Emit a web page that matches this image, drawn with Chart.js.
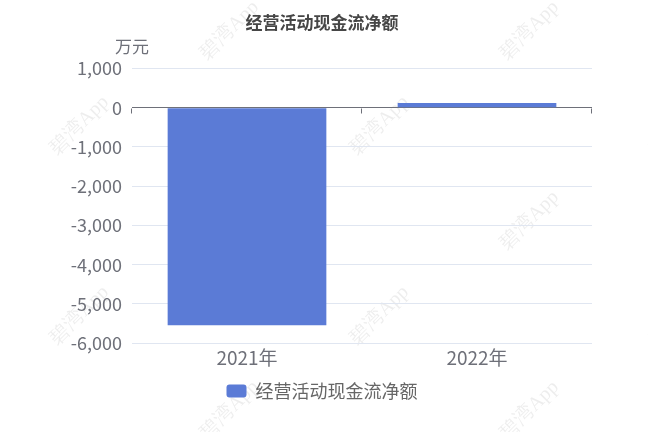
<!DOCTYPE html>
<html>
<head>
<meta charset="utf-8">
<script src="https://cdn.jsdelivr.net/npm/chart.js@4.4.1/dist/chart.umd.min.js"></script>
<style>
  html, body { margin: 0; padding: 0; background: #fff; }
  #wrap { width: 648px; height: 432px; position: relative; }
</style>
</head>
<body>
<div id="wrap"><canvas id="c"></canvas></div>
<script>
// du lieu doc tu hinh
const categories = ['2021年', '2022年'];
const cashFlow = [-5540, 120];
const seriesName = '经营活动现金流净额';
const yTicks = { min: -6000, max: 1000, step: 1000 };
const unitLabel = '万元';
const watermark = '碧湾App';

const FONT = "'Noto Sans CJK SC', 'Noto Sans', sans-serif";

// ve chu "万元" phia tren truc y + vach chia tren truc 0 + watermark
const extras = {
    id: 'extras',
    beforeDraw(chart) {
        const { ctx } = chart;
        ctx.save();
        ctx.font = '20px serif';
        ctx.fillStyle = 'rgba(0,0,0,0.07)';
        for (let row = -1; row < 6; row++) {
            for (let col = -1; col < 4; col++) {
                const x = col * 300 + (row % 2 ? 150 : 0) + 80;
                const y = row * 95 + 125;
                ctx.save();
                ctx.translate(x, y);
                ctx.rotate(-Math.PI / 4);
                ctx.fillText(watermark, -38, 0);
                ctx.restore();
            }
        }
        ctx.restore();
    },
    afterDraw(chart) {
        const { ctx, chartArea } = chart;
        const ys = chart.scales.y;
        const y0 = Math.round(ys.getPixelForValue(0)) + 0.5;
        ctx.save();
        ctx.strokeStyle = '#6e7079';
        ctx.lineWidth = 1;
        const n = categories.length;
        for (let i = 0; i <= n; i++) {
            const x = Math.round(chartArea.left + (chartArea.right - chartArea.left) * i / n) - 0.5;
            ctx.beginPath();
            ctx.moveTo(x, y0);
            ctx.lineTo(x, y0 + 5);
            ctx.stroke();
        }
        ctx.fillStyle = '#6e7079';
        ctx.font = '17px ' + FONT;
        ctx.textAlign = 'center';
        ctx.textBaseline = 'bottom';
        ctx.fillText(unitLabel, chartArea.left, chartArea.top - 13);
        ctx.restore();
    }
};

new Chart(document.getElementById('c'), {
    type: 'bar',
    data: {
        labels: categories,
        datasets: [{
            label: seriesName,
            data: cashFlow,
            backgroundColor: '#5b7bd6',
            categoryPercentage: 1,
            barPercentage: 0.69,
        }],
    },
    options: {
        responsive: true,
        maintainAspectRatio: false,
        animation: false,
        layout: { padding: { left: 52, right: 56, top: 0, bottom: 22 } },
        plugins: {
            title: {
                display: true,
                text: seriesName,
                color: '#464646',
                font: { family: FONT, size: 17, weight: 'bold' },
                padding: { top: 12, bottom: 36 },
            },
            legend: {
                position: 'bottom',
                labels: {
                    color: '#666',
                    font: { family: FONT, size: 18 },
                    boxWidth: 20,
                    boxHeight: 13,
                    useBorderRadius: true,
                    borderRadius: 3,
                    padding: 10,
                },
            },
            tooltip: { enabled: false },
        },
        scales: {
            x: {
                grid: { display: false, drawTicks: false },
                border: { display: false },
                ticks: { color: '#6e7079', font: { family: FONT, size: 19 }, padding: 3 },
            },
            y: {
                min: yTicks.min,
                max: yTicks.max,
                border: { display: false },
                afterFit: s => { s.width = 80; },
                grid: {
                    color: c => c.tick.value === 0 ? '#6e7079' : '#e0e6f1',
                    drawTicks: false,
                },
                ticks: {
                    stepSize: yTicks.step,
                    color: '#6e7079',
                    font: { family: FONT, size: 18 },
                    padding: 10,
                    callback: v => v.toLocaleString('en-US'),
                },
            },
        },
    },
    plugins: [extras],
});
</script>
</body>
</html>
